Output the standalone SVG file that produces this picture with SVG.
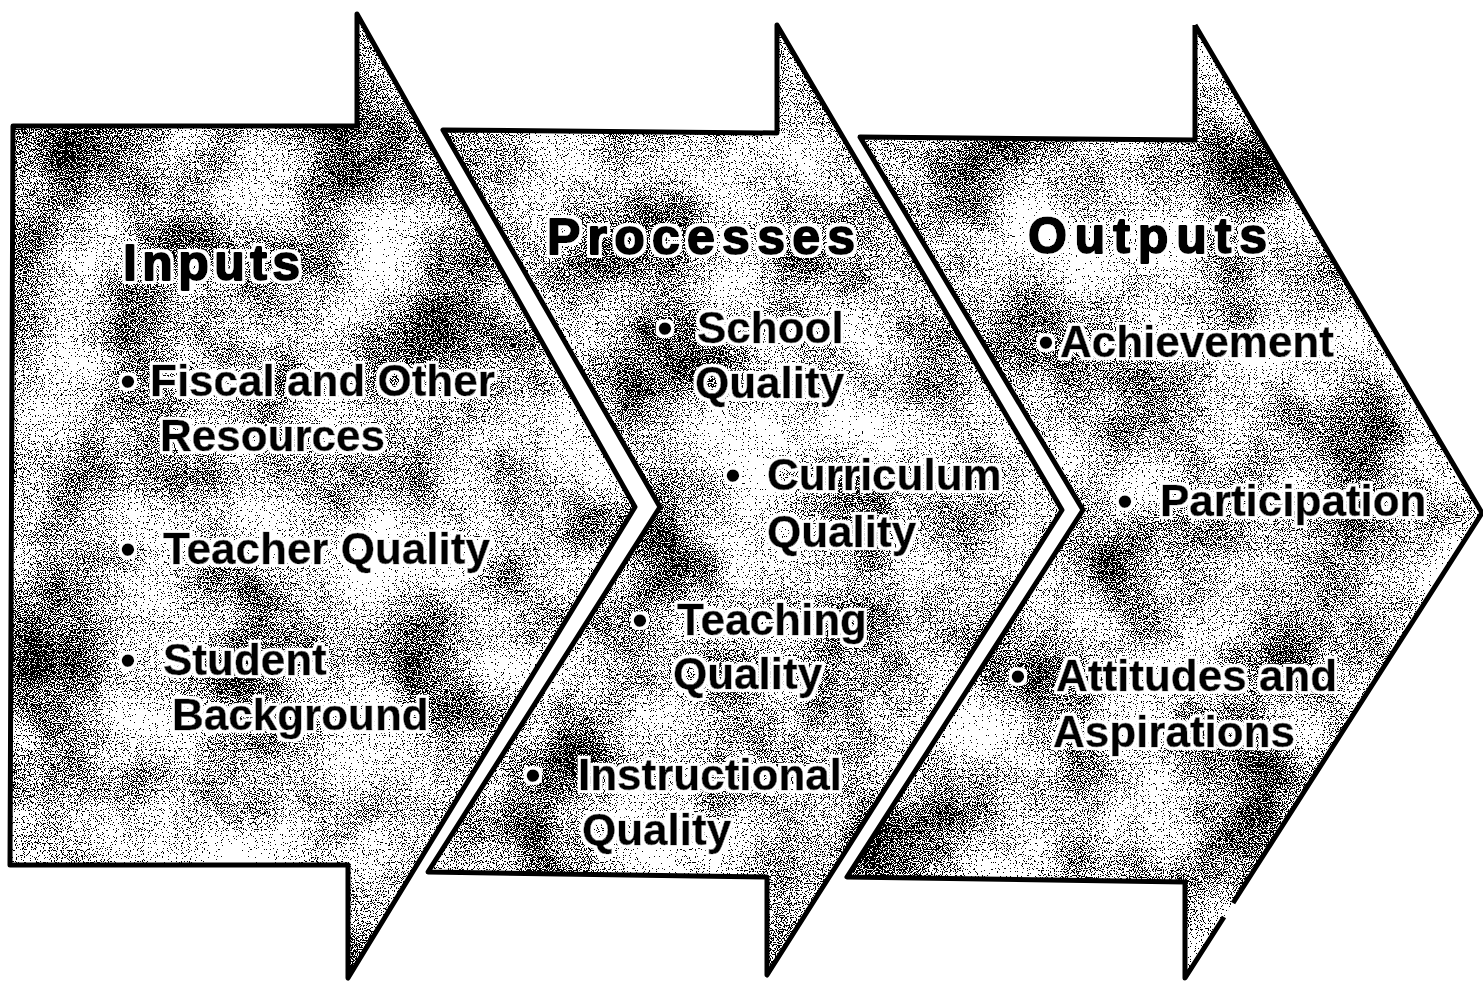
<svg xmlns="http://www.w3.org/2000/svg" width="1483" height="982" viewBox="0 0 1483 982">
  <defs>
    <style>
      .base { fill: #ffffff; stroke: none; }
      .speck { fill: #000000; stroke: none; }
      .outline { fill: none; stroke: #000000; stroke-width: 5; stroke-linejoin: round; }
      .title { font-family: "Liberation Sans", Arial, sans-serif; font-weight: bold; font-size: 50px; fill: #000; stroke: #000; stroke-width: 2; stroke-linejoin: round; }
      .item { font-family: "Liberation Sans", Arial, sans-serif; font-weight: bold; font-size: 44px; fill: #000; stroke: #000; stroke-width: 0.6; }
      .bul { font-family: "Liberation Sans", Arial, sans-serif; font-weight: bold; font-size: 44px; fill: #000; text-anchor: middle; }
    </style>
    <filter id="speckle" filterUnits="userSpaceOnUse" x="0" y="0" width="1483" height="982" color-interpolation-filters="sRGB">
      <feTurbulence type="fractalNoise" baseFrequency="0.85" numOctaves="1" seed="7" result="f0"/>
      <feColorMatrix in="f0" type="matrix" values="1 0 0 0 0  1 0 0 0 0  1 0 0 0 0  0 0 0 0 1" result="fine"/>
      <feTurbulence type="fractalNoise" baseFrequency="0.01" numOctaves="3" seed="3" result="c0"/>
      <feColorMatrix in="c0" type="matrix" values="1 0 0 0 0  1 0 0 0 0  1 0 0 0 0  0 0 0 0 1" result="coarse"/>
      <feComposite in="fine" in2="coarse" operator="arithmetic" k1="0" k2="1" k3="0.45" k4="-0.29" result="mix"/>
      <feColorMatrix in="mix" type="matrix" values="0 0 0 0 0  0 0 0 0 0  0 0 0 0 0  1 0 0 0 0" result="a"/>
      <feComponentTransfer in="a" result="dots">
        <feFuncA type="discrete" tableValues="0 0 0 0 0 1 1 1 1 1"/>
      </feComponentTransfer>
      <feComposite in="dots" in2="SourceGraphic" operator="in"/>
    </filter>
    <filter id="halo" x="-10%" y="-30%" width="120%" height="160%">
      <feMorphology in="SourceAlpha" operator="dilate" radius="2.5" result="d"/>
      <feFlood flood-color="#ffffff" result="w"/>
      <feComposite in="w" in2="d" operator="in" result="h"/>
      <feMerge>
        <feMergeNode in="h"/>
        <feMergeNode in="SourceGraphic"/>
      </feMerge>
    </filter>
  </defs>

  <rect width="1483" height="982" fill="#ffffff"/>

  <g id="inputs">
    <path class="base" d="M13,126 L357,126 L357,14 L635,507 L348,978 L348,865 L10,865 Z"/>
    <path class="speck" filter="url(#speckle)" d="M13,126 L357,126 L357,14 L635,507 L348,978 L348,865 L10,865 Z"/>
    <path class="outline" d="M13,126 L357,126 L357,14 L635,507 L348,978 L348,865 L10,865 Z"/>
    <g filter="url(#halo)">
      <text class="title" x="123" y="280" textLength="177" lengthAdjust="spacing">Inputs</text>
      <text class="bul" x="128" y="396">•</text>
      <text class="item" x="150" y="396">Fiscal and Other</text>
      <text class="item" x="160" y="451">Resources</text>
      <text class="bul" x="128" y="564">•</text>
      <text class="item" x="163" y="564">Teacher Quality</text>
      <text class="bul" x="128" y="675">•</text>
      <text class="item" x="163" y="675">Student</text>
      <text class="item" x="172" y="730">Background</text>
    </g>
  </g>

  <g id="processes">
    <path class="base" d="M443,130 L777,133 L777,25 L1062,510 L767,975 L767,877 L428,872 L660,507 Z"/>
    <path class="speck" filter="url(#speckle)" d="M443,130 L777,133 L777,25 L1062,510 L767,975 L767,877 L428,872 L660,507 Z"/>
    <path class="outline" d="M443,130 L777,133 L777,25 L1062,510 L767,975 L767,877 L428,872 L660,507 Z"/>
    <g filter="url(#halo)">
      <text class="title" x="547" y="254" textLength="308" lengthAdjust="spacing">Processes</text>
      <text class="bul" x="665" y="343">•</text>
      <text class="item" x="697" y="343">School</text>
      <text class="item" x="695" y="398">Quality</text>
      <text class="bul" x="733" y="490">•</text>
      <text class="item" x="767" y="490">Curriculum</text>
      <text class="item" x="767" y="547">Quality</text>
      <text class="bul" x="640" y="635">•</text>
      <text class="item" x="677" y="635">Teaching</text>
      <text class="item" x="673" y="689">Quality</text>
      <text class="bul" x="533" y="790">•</text>
      <text class="item" x="578" y="790">Instructional</text>
      <text class="item" x="582" y="845">Quality</text>
    </g>
  </g>

  <g id="outputs">
    <path class="base" d="M860,137 L1195,140 L1195,25 L1482,513 L1185,978 L1185,882 L847,877 L1083,510 Z"/>
    <path class="speck" filter="url(#speckle)" d="M860,137 L1195,140 L1195,25 L1482,513 L1185,978 L1185,882 L847,877 L1083,510 Z"/>
    <path class="outline" d="M1195,25 L1195,140 L860,137 L1083,510 L847,877 L1185,882 L1185,978 L1224,917 M1233,903 L1482,513 L1195,25"/>
    <g filter="url(#halo)">
      <text class="title" x="1028" y="253" textLength="239" lengthAdjust="spacing">Outputs</text>
      <text class="bul" x="1046" y="357">•</text>
      <text class="item" x="1060" y="357">Achievement</text>
      <text class="bul" x="1125" y="516">•</text>
      <text class="item" x="1160" y="516">Participation</text>
      <text class="bul" x="1018" y="691">•</text>
      <text class="item" x="1056" y="691">Attitudes and</text>
      <text class="item" x="1053" y="747">Aspirations</text>
    </g>
  </g>

  <g id="connectors"></g>
</svg>
